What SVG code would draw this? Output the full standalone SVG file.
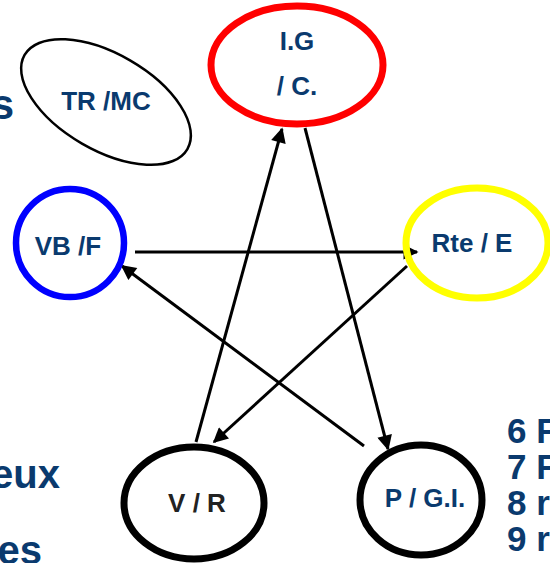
<svg xmlns="http://www.w3.org/2000/svg" width="550" height="563" viewBox="0 0 550 563">
<defs>
<style>
.lbl{font-family:"Liberation Sans",Arial,sans-serif;font-weight:bold;font-size:26px;fill:#0a3a6e;text-anchor:middle}
.side{font-family:"Liberation Sans",Arial,sans-serif;font-weight:bold;fill:#0a3a6e}
.edge{stroke:#000;stroke-width:3;fill:none;marker-end:url(#ah)}
</style>
<marker id="ah" viewBox="0 0 10 10" refX="9" refY="5" markerWidth="5.5" markerHeight="5" markerUnits="strokeWidth" orient="auto">
<path d="M0,0 L10,5 L0,10 z" fill="#000"/>
</marker>
</defs>
<rect width="550" height="563" fill="#fff"/>
<g id="side-text">
<text class="side" x="14" y="119" font-size="42" text-anchor="end">s</text>
<text class="side" x="60" y="488" font-size="40" text-anchor="end">eux</text>
<text class="side" x="42" y="564" font-size="40" text-anchor="end">es</text>
<text class="side" x="507" y="443" font-size="35">6 F</text>
<text class="side" x="507" y="479" font-size="35">7 F</text>
<text class="side" x="507" y="515" font-size="35">8 r</text>
<text class="side" x="507" y="551" font-size="35">9 r</text>
</g>
<g id="connectors">
<line class="edge" x1="196" y1="442" x2="282" y2="129"/>
<line class="edge" x1="305" y1="128" x2="388" y2="449"/>
<line class="edge" x1="135" y1="252" x2="417" y2="252"/>
<line class="edge" x1="407" y1="266" x2="214" y2="442"/>
<line class="edge" x1="364" y1="446" x2="122" y2="266"/>
</g>
<g id="node-trmc">
<ellipse cx="106" cy="102" rx="94" ry="48" transform="rotate(30 106 102)" fill="none" stroke="#000" stroke-width="2.5"/>
<text class="lbl" x="106" y="110">TR /MC</text>
</g>
<g id="node-igc">
<ellipse cx="297" cy="65" rx="86" ry="59" fill="none" stroke="#f00" stroke-width="7"/>
<text class="lbl" x="297" y="50">I.G</text>
<text class="lbl" x="297" y="95">/ C.</text>
</g>
<g id="node-vbf">
<circle cx="70" cy="243" r="54" fill="none" stroke="#00f" stroke-width="6.5"/>
<text class="lbl" x="68" y="255">VB /F</text>
</g>
<g id="node-rte">
<ellipse cx="477" cy="243" rx="71" ry="55" fill="none" stroke="#ff0" stroke-width="7"/>
<text class="lbl" x="472" y="252">Rte / E</text>
</g>
<g id="node-vr">
<ellipse cx="194" cy="503" rx="70" ry="56" fill="none" stroke="#000" stroke-width="7"/>
<text class="lbl" x="197" y="512" style="fill:#222">V / R</text>
</g>
<g id="node-pgi">
<ellipse cx="421" cy="500" rx="61" ry="55" fill="none" stroke="#000" stroke-width="7"/>
<text class="lbl" x="425" y="507">P / G.I.</text>
</g>
</svg>
